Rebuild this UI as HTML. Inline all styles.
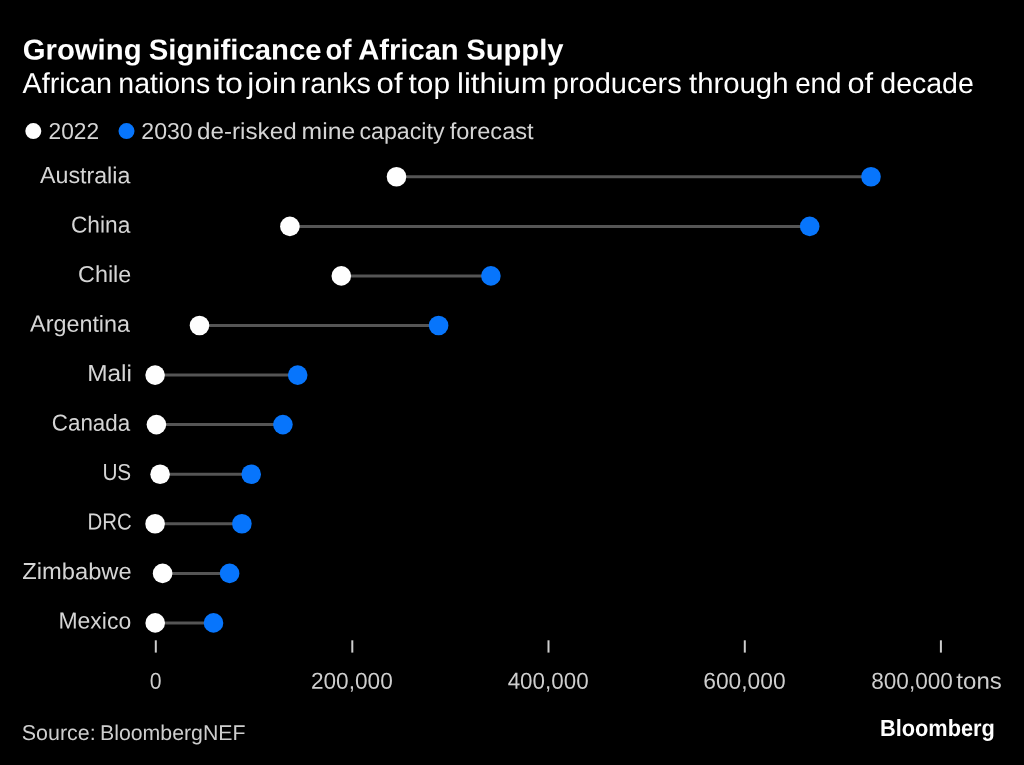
<!DOCTYPE html>
<html lang="en">
<head>
<meta charset="utf-8">
<title>Growing Significance of African Supply</title>
<style>
html,body{margin:0;padding:0;background:#000;}
body{width:1024px;height:765px;overflow:hidden;font-family:"Liberation Sans",sans-serif;}
svg{display:block;will-change:transform;opacity:0.999;text-rendering:geometricPrecision;}
svg text{font-family:"Liberation Sans",sans-serif;}
</style>
</head>
<body>
<svg width="1024" height="765" viewBox="0 0 1024 765">
<rect x="0" y="0" width="1024" height="765" fill="#000"/>
<!-- legend swatches -->
<circle cx="33.3" cy="131.1" r="8" fill="#ffffff"/>
<circle cx="126.5" cy="131.1" r="8" fill="#0876fd"/>
<!-- dumbbells -->
<line x1="396.5" y1="176.8" x2="871.0" y2="176.8" stroke="#565656" stroke-width="3"/>
<circle cx="396.5" cy="176.8" r="9.8" fill="#ffffff"/>
<circle cx="871.0" cy="176.8" r="9.8" fill="#0876fd"/>
<line x1="289.9" y1="226.4" x2="809.7" y2="226.4" stroke="#565656" stroke-width="3"/>
<circle cx="289.9" cy="226.4" r="9.8" fill="#ffffff"/>
<circle cx="809.7" cy="226.4" r="9.8" fill="#0876fd"/>
<line x1="341.3" y1="275.9" x2="490.9" y2="275.9" stroke="#565656" stroke-width="3"/>
<circle cx="341.3" cy="275.9" r="9.8" fill="#ffffff"/>
<circle cx="490.9" cy="275.9" r="9.8" fill="#0876fd"/>
<line x1="199.5" y1="325.5" x2="438.6" y2="325.5" stroke="#565656" stroke-width="3"/>
<circle cx="199.5" cy="325.5" r="9.8" fill="#ffffff"/>
<circle cx="438.6" cy="325.5" r="9.8" fill="#0876fd"/>
<line x1="155.1" y1="375.1" x2="297.7" y2="375.1" stroke="#565656" stroke-width="3"/>
<circle cx="155.1" cy="375.1" r="9.8" fill="#ffffff"/>
<circle cx="297.7" cy="375.1" r="9.8" fill="#0876fd"/>
<line x1="156.4" y1="424.6" x2="282.9" y2="424.6" stroke="#565656" stroke-width="3"/>
<circle cx="156.4" cy="424.6" r="9.8" fill="#ffffff"/>
<circle cx="282.9" cy="424.6" r="9.8" fill="#0876fd"/>
<line x1="160.1" y1="474.2" x2="251.2" y2="474.2" stroke="#565656" stroke-width="3"/>
<circle cx="160.1" cy="474.2" r="9.8" fill="#ffffff"/>
<circle cx="251.2" cy="474.2" r="9.8" fill="#0876fd"/>
<line x1="155.1" y1="523.8" x2="241.9" y2="523.8" stroke="#565656" stroke-width="3"/>
<circle cx="155.1" cy="523.8" r="9.8" fill="#ffffff"/>
<circle cx="241.9" cy="523.8" r="9.8" fill="#0876fd"/>
<line x1="162.6" y1="573.4" x2="229.6" y2="573.4" stroke="#565656" stroke-width="3"/>
<circle cx="162.6" cy="573.4" r="9.8" fill="#ffffff"/>
<circle cx="229.6" cy="573.4" r="9.8" fill="#0876fd"/>
<line x1="155.2" y1="622.9" x2="213.5" y2="622.9" stroke="#565656" stroke-width="3"/>
<circle cx="155.2" cy="622.9" r="9.8" fill="#ffffff"/>
<circle cx="213.5" cy="622.9" r="9.8" fill="#0876fd"/>
<!-- axis ticks -->
<line x1="155.8" y1="640.3" x2="155.8" y2="652.6" stroke="#cfcfcf" stroke-width="2"/>
<line x1="352.3" y1="640.3" x2="352.3" y2="652.6" stroke="#cfcfcf" stroke-width="2"/>
<line x1="548.5" y1="640.3" x2="548.5" y2="652.6" stroke="#cfcfcf" stroke-width="2"/>
<line x1="744.8" y1="640.3" x2="744.8" y2="652.6" stroke="#cfcfcf" stroke-width="2"/>
<line x1="940.9" y1="640.3" x2="940.9" y2="652.6" stroke="#cfcfcf" stroke-width="2"/>
<!-- text -->
<text transform="rotate(0.05 22.71 59.5)" x="22.71" y="59.5" font-size="28.8" font-weight="bold" fill="#ffffff" textLength="118.84" lengthAdjust="spacingAndGlyphs">Growing</text>
<text transform="rotate(0.05 148.80 59.5)" x="148.80" y="59.5" font-size="28.8" font-weight="bold" fill="#ffffff" textLength="172.78" lengthAdjust="spacingAndGlyphs">Significance</text>
<text transform="rotate(0.05 325.41 59.5)" x="325.41" y="59.5" font-size="28.8" font-weight="bold" fill="#ffffff" textLength="26.15" lengthAdjust="spacingAndGlyphs">of</text>
<text transform="rotate(0.05 358.15 59.5)" x="358.15" y="59.5" font-size="28.8" font-weight="bold" fill="#ffffff" textLength="100.56" lengthAdjust="spacingAndGlyphs">African</text>
<text transform="rotate(0.05 466.19 59.5)" x="466.19" y="59.5" font-size="28.8" font-weight="bold" fill="#ffffff" textLength="97.30" lengthAdjust="spacingAndGlyphs">Supply</text>
<text transform="rotate(0.05 22.45 92.9)" x="22.45" y="92.9" font-size="28.8" font-weight="normal" fill="#ffffff" textLength="89.57" lengthAdjust="spacingAndGlyphs">African</text>
<text transform="rotate(0.05 118.31 92.9)" x="118.31" y="92.9" font-size="28.8" font-weight="normal" fill="#ffffff" textLength="91.88" lengthAdjust="spacingAndGlyphs">nations</text>
<text transform="rotate(0.05 216.20 92.9)" x="216.20" y="92.9" font-size="28.8" font-weight="normal" fill="#ffffff" textLength="26.70" lengthAdjust="spacingAndGlyphs">to</text>
<text transform="rotate(0.05 247.39 92.9)" x="247.39" y="92.9" font-size="28.8" font-weight="normal" fill="#ffffff" textLength="49.33" lengthAdjust="spacingAndGlyphs">join</text>
<text transform="rotate(0.05 300.75 92.9)" x="300.75" y="92.9" font-size="28.8" font-weight="normal" fill="#ffffff" textLength="70.22" lengthAdjust="spacingAndGlyphs">ranks</text>
<text transform="rotate(0.05 376.60 92.9)" x="376.60" y="92.9" font-size="28.8" font-weight="normal" fill="#ffffff" textLength="25.94" lengthAdjust="spacingAndGlyphs">of</text>
<text transform="rotate(0.05 408.54 92.9)" x="408.54" y="92.9" font-size="28.8" font-weight="normal" fill="#ffffff" textLength="41.44" lengthAdjust="spacingAndGlyphs">top</text>
<text transform="rotate(0.05 457.07 92.9)" x="457.07" y="92.9" font-size="28.8" font-weight="normal" fill="#ffffff" textLength="89.58" lengthAdjust="spacingAndGlyphs">lithium</text>
<text transform="rotate(0.05 552.84 92.9)" x="552.84" y="92.9" font-size="28.8" font-weight="normal" fill="#ffffff" textLength="128.94" lengthAdjust="spacingAndGlyphs">producers</text>
<text transform="rotate(0.05 689.01 92.9)" x="689.01" y="92.9" font-size="28.8" font-weight="normal" fill="#ffffff" textLength="99.46" lengthAdjust="spacingAndGlyphs">through</text>
<text transform="rotate(0.05 795.18 92.9)" x="795.18" y="92.9" font-size="28.8" font-weight="normal" fill="#ffffff" textLength="46.31" lengthAdjust="spacingAndGlyphs">end</text>
<text transform="rotate(0.05 847.52 92.9)" x="847.52" y="92.9" font-size="28.8" font-weight="normal" fill="#ffffff" textLength="25.66" lengthAdjust="spacingAndGlyphs">of</text>
<text transform="rotate(0.05 880.32 92.9)" x="880.32" y="92.9" font-size="28.8" font-weight="normal" fill="#ffffff" textLength="93.48" lengthAdjust="spacingAndGlyphs">decade</text>
<text transform="rotate(0.05 48.55 139.0)" x="48.55" y="139.0" font-size="23.1" font-weight="normal" fill="#d6d6d6" textLength="50.49" lengthAdjust="spacingAndGlyphs">2022</text>
<text transform="rotate(0.05 141.36 139.0)" x="141.36" y="139.0" font-size="23.1" font-weight="normal" fill="#d6d6d6" textLength="51.29" lengthAdjust="spacingAndGlyphs">2030</text>
<text transform="rotate(0.05 197.10 139.0)" x="197.10" y="139.0" font-size="23.1" font-weight="normal" fill="#d6d6d6" textLength="99.49" lengthAdjust="spacingAndGlyphs">de-risked</text>
<text transform="rotate(0.05 301.61 139.0)" x="301.61" y="139.0" font-size="23.1" font-weight="normal" fill="#d6d6d6" textLength="53.57" lengthAdjust="spacingAndGlyphs">mine</text>
<text transform="rotate(0.05 359.40 139.0)" x="359.40" y="139.0" font-size="23.1" font-weight="normal" fill="#d6d6d6" textLength="85.21" lengthAdjust="spacingAndGlyphs">capacity</text>
<text transform="rotate(0.05 449.65 139.0)" x="449.65" y="139.0" font-size="23.1" font-weight="normal" fill="#d6d6d6" textLength="84.02" lengthAdjust="spacingAndGlyphs">forecast</text>
<text transform="rotate(0.05 149.74 688.8)" x="149.74" y="688.8" font-size="23.1" font-weight="normal" fill="#cfcfcf" textLength="11.80" lengthAdjust="spacingAndGlyphs">0</text>
<text transform="rotate(0.05 310.93 688.8)" x="310.93" y="688.8" font-size="23.1" font-weight="normal" fill="#cfcfcf" textLength="81.83" lengthAdjust="spacingAndGlyphs">200,000</text>
<text transform="rotate(0.05 507.65 688.8)" x="507.65" y="688.8" font-size="23.1" font-weight="normal" fill="#cfcfcf" textLength="80.95" lengthAdjust="spacingAndGlyphs">400,000</text>
<text transform="rotate(0.05 703.21 688.8)" x="703.21" y="688.8" font-size="23.1" font-weight="normal" fill="#cfcfcf" textLength="82.39" lengthAdjust="spacingAndGlyphs">600,000</text>
<text transform="rotate(0.05 871.23 688.8)" x="871.23" y="688.8" font-size="23.1" font-weight="normal" fill="#cfcfcf" textLength="81.66" lengthAdjust="spacingAndGlyphs">800,000</text>
<text transform="rotate(0.05 956.36 688.8)" x="956.36" y="688.8" font-size="23.1" font-weight="normal" fill="#cfcfcf" textLength="45.43" lengthAdjust="spacingAndGlyphs">tons</text>
<text transform="rotate(0.05 21.81 740.0)" x="21.81" y="740.0" font-size="21.4" font-weight="normal" fill="#cfcfcf" textLength="73.87" lengthAdjust="spacingAndGlyphs">Source:</text>
<text transform="rotate(0.05 99.96 740.0)" x="99.96" y="740.0" font-size="21.4" font-weight="normal" fill="#cfcfcf" textLength="145.58" lengthAdjust="spacingAndGlyphs">BloombergNEF</text>
<text transform="rotate(0.05 879.97 736.0)" x="879.97" y="736.0" font-size="23.4" font-weight="bold" fill="#ffffff" textLength="114.93" lengthAdjust="spacingAndGlyphs">Bloomberg</text>
<text transform="rotate(0.05 40.05 183.1)" x="40.05" y="183.1" font-size="23.1" font-weight="normal" fill="#d6d6d6" textLength="90.27" lengthAdjust="spacingAndGlyphs">Australia</text>
<text transform="rotate(0.05 70.92 232.6)" x="70.92" y="232.6" font-size="23.1" font-weight="normal" fill="#d6d6d6" textLength="59.41" lengthAdjust="spacingAndGlyphs">China</text>
<text transform="rotate(0.05 78.11 282.1)" x="78.11" y="282.1" font-size="23.1" font-weight="normal" fill="#d6d6d6" textLength="53.19" lengthAdjust="spacingAndGlyphs">Chile</text>
<text transform="rotate(0.05 30.07 331.6)" x="30.07" y="331.6" font-size="23.1" font-weight="normal" fill="#d6d6d6" textLength="99.98" lengthAdjust="spacingAndGlyphs">Argentina</text>
<text transform="rotate(0.05 87.19 381.1)" x="87.19" y="381.1" font-size="23.1" font-weight="normal" fill="#d6d6d6" textLength="44.78" lengthAdjust="spacingAndGlyphs">Mali</text>
<text transform="rotate(0.05 51.85 430.6)" x="51.85" y="430.6" font-size="23.1" font-weight="normal" fill="#d6d6d6" textLength="78.35" lengthAdjust="spacingAndGlyphs">Canada</text>
<text transform="rotate(0.05 102.38 480.1)" x="102.38" y="480.1" font-size="23.1" font-weight="normal" fill="#d6d6d6" textLength="28.86" lengthAdjust="spacingAndGlyphs">US</text>
<text transform="rotate(0.05 87.43 529.6)" x="87.43" y="529.6" font-size="23.1" font-weight="normal" fill="#d6d6d6" textLength="44.21" lengthAdjust="spacingAndGlyphs">DRC</text>
<text transform="rotate(0.05 22.35 579.1)" x="22.35" y="579.1" font-size="23.1" font-weight="normal" fill="#d6d6d6" textLength="109.30" lengthAdjust="spacingAndGlyphs">Zimbabwe</text>
<text transform="rotate(0.05 58.48 628.6)" x="58.48" y="628.6" font-size="23.1" font-weight="normal" fill="#d6d6d6" textLength="72.70" lengthAdjust="spacingAndGlyphs">Mexico</text>
</svg>
</body>
</html>
